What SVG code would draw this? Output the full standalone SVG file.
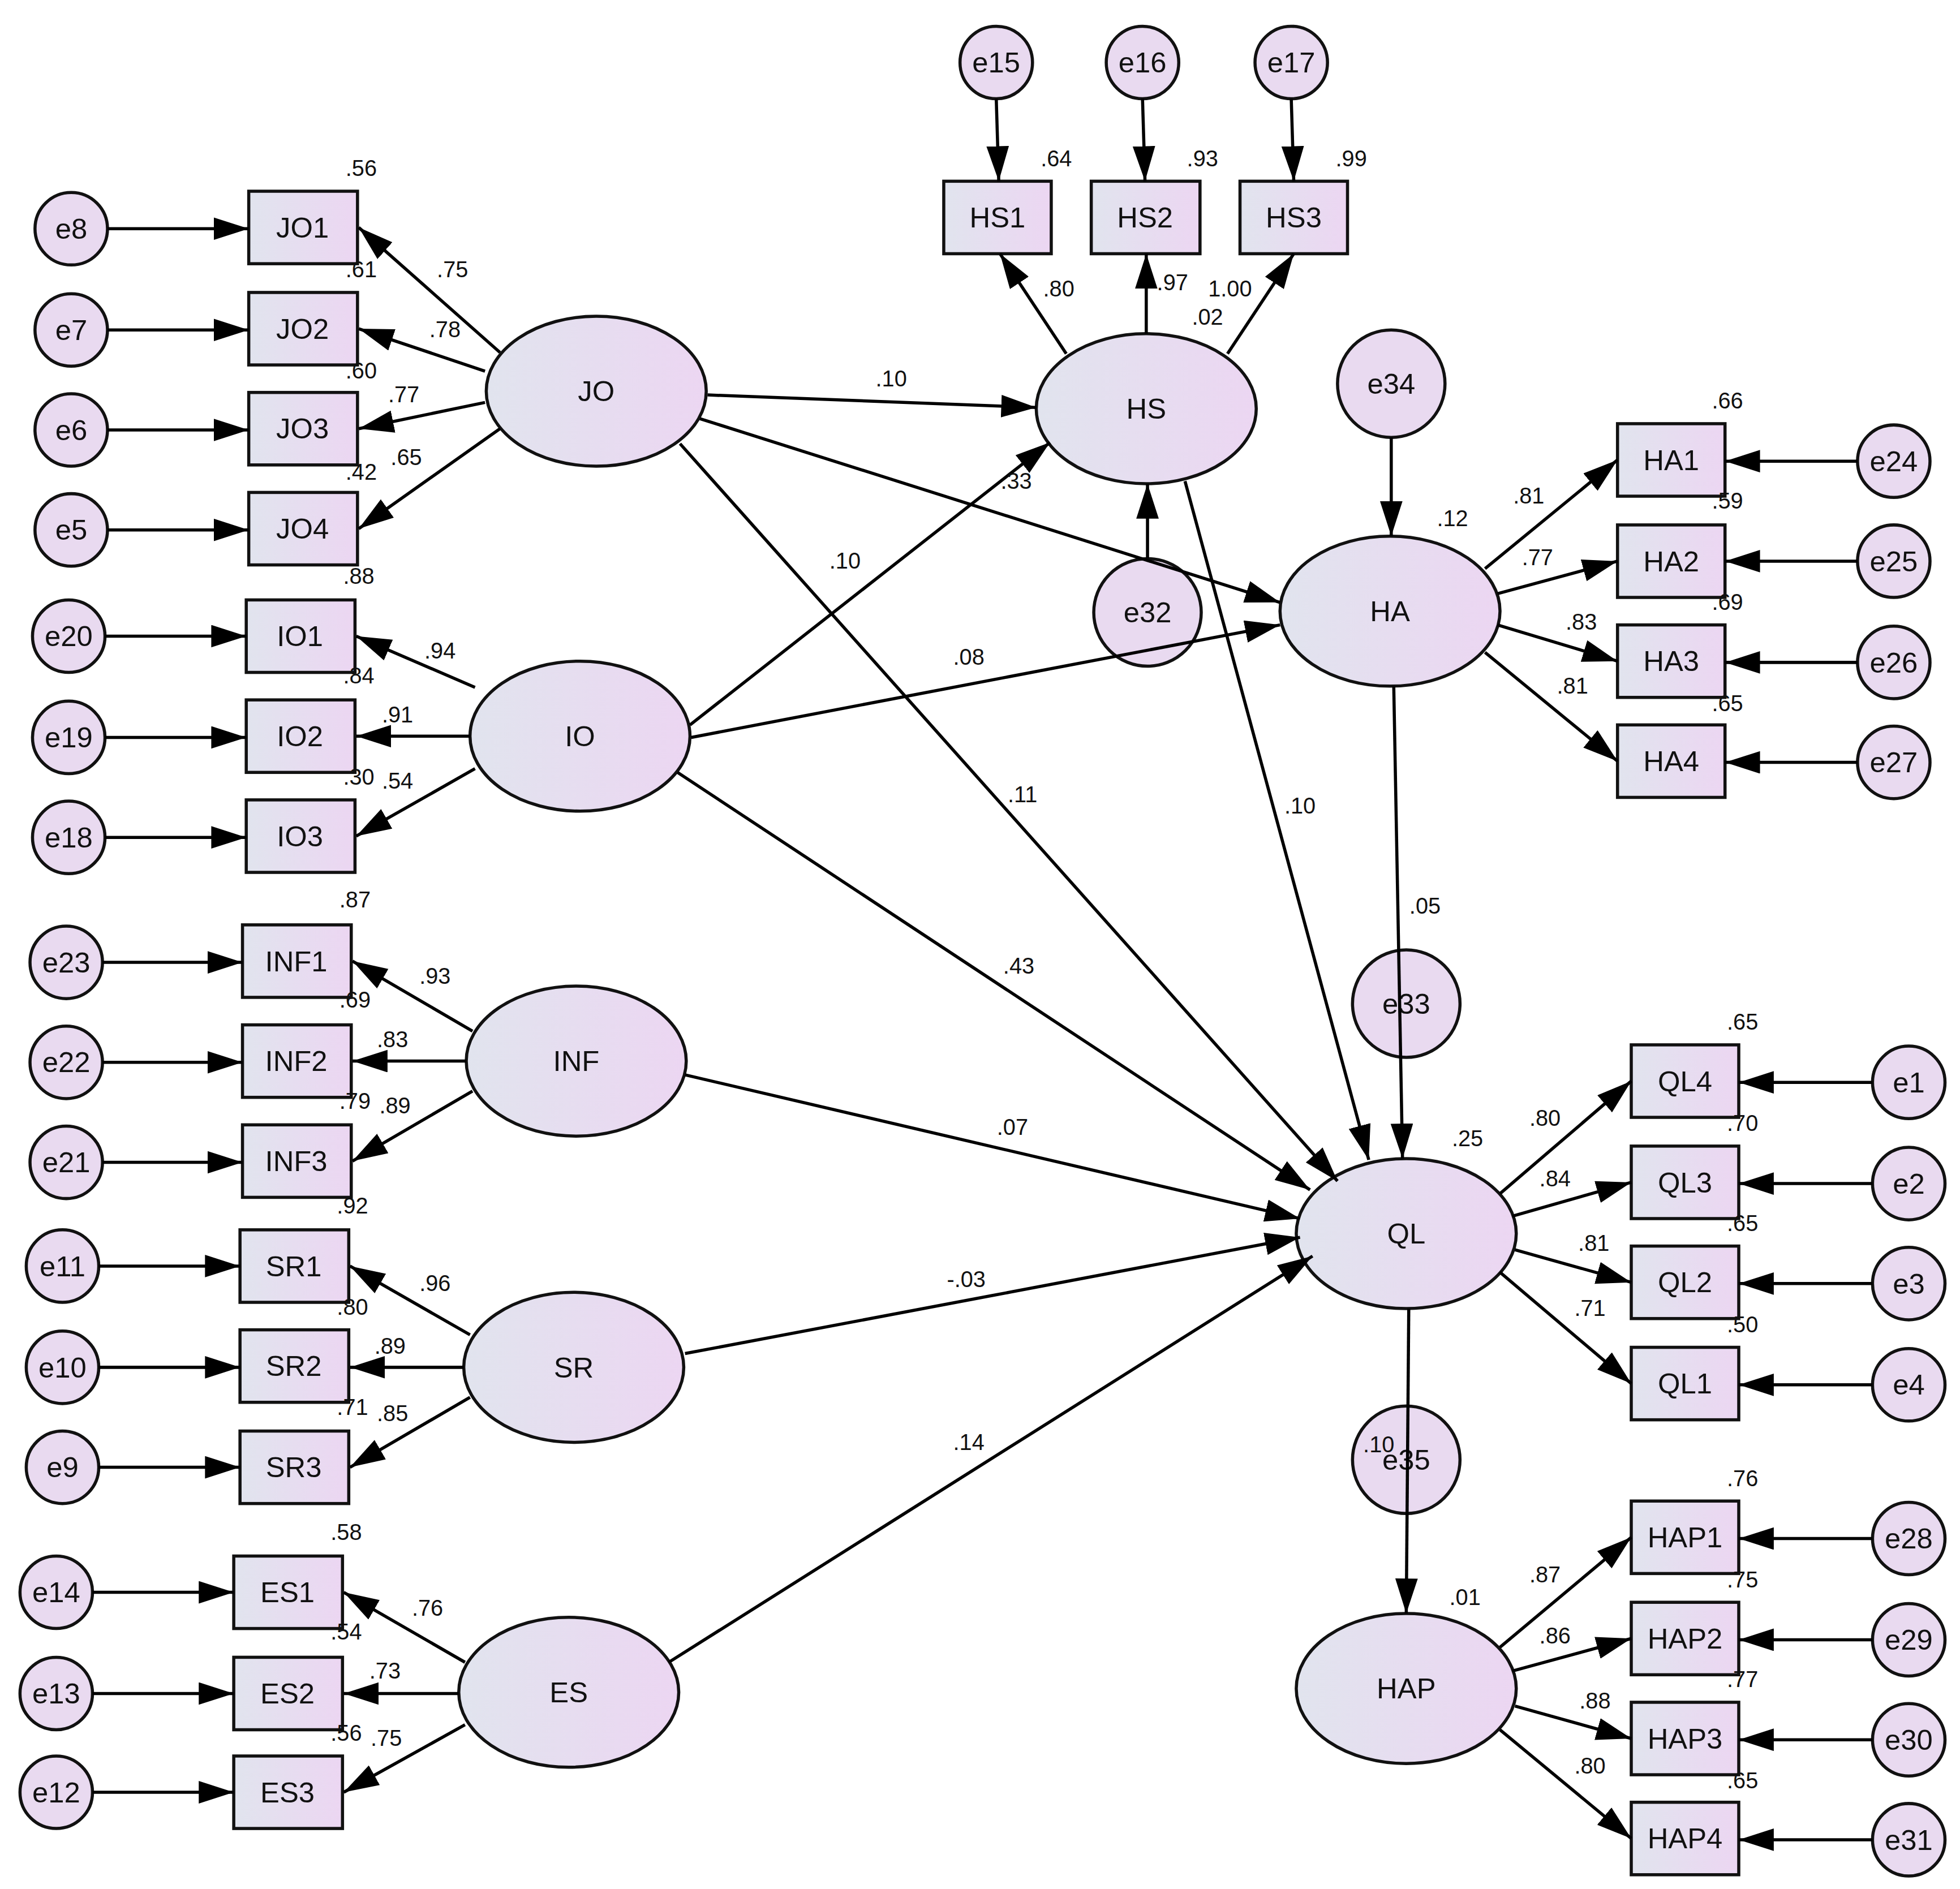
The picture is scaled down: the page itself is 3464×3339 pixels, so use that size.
<svg xmlns="http://www.w3.org/2000/svg" width="3464" height="3339" viewBox="0 0 3464 3339">
<defs>
<linearGradient id="g" x1="0" y1="0" x2="1" y2="0"><stop offset="0" stop-color="#e1e4ee"/><stop offset="1" stop-color="#ecd6f2"/></linearGradient>
<marker id="a" markerUnits="userSpaceOnUse" markerWidth="30" markerHeight="20" refX="28" refY="9" orient="auto"><path d="M0,0 L28,9 L0,18 Z" fill="#000"/></marker>
<style>
.n{fill:url(#g);stroke:#111;stroke-width:2.5}
.e{fill:#e9daf0;stroke:#111;stroke-width:2.5}
.t{font-family:"Liberation Sans",Arial,sans-serif;font-size:23px;text-anchor:middle;fill:#111}
.l{font-family:"Liberation Sans",Arial,sans-serif;font-size:18px;text-anchor:middle;fill:#111}
#c line{stroke:#000;stroke-width:2.5;marker-end:url(#a)}
</style>
</defs>
<rect width="3464" height="3339" fill="#fff"/>
<g transform="scale(2.2092)">
<g id="e8"><circle class="e" cx="57" cy="183" r="29"/><text class="t" x="57" y="191">e8</text></g>
<g id="e7"><circle class="e" cx="57" cy="264" r="29"/><text class="t" x="57" y="272">e7</text></g>
<g id="e6"><circle class="e" cx="57" cy="344" r="29"/><text class="t" x="57" y="352">e6</text></g>
<g id="e5"><circle class="e" cx="57" cy="424" r="29"/><text class="t" x="57" y="432">e5</text></g>
<g id="e20"><circle class="e" cx="55" cy="509" r="29"/><text class="t" x="55" y="517">e20</text></g>
<g id="e19"><circle class="e" cx="55" cy="590" r="29"/><text class="t" x="55" y="598">e19</text></g>
<g id="e18"><circle class="e" cx="55" cy="670" r="29"/><text class="t" x="55" y="678">e18</text></g>
<g id="e23"><circle class="e" cx="53" cy="770" r="29"/><text class="t" x="53" y="778">e23</text></g>
<g id="e22"><circle class="e" cx="53" cy="850" r="29"/><text class="t" x="53" y="858">e22</text></g>
<g id="e21"><circle class="e" cx="53" cy="930" r="29"/><text class="t" x="53" y="938">e21</text></g>
<g id="e11"><circle class="e" cx="50" cy="1013" r="29"/><text class="t" x="50" y="1021">e11</text></g>
<g id="e10"><circle class="e" cx="50" cy="1094" r="29"/><text class="t" x="50" y="1102">e10</text></g>
<g id="e9"><circle class="e" cx="50" cy="1174" r="29"/><text class="t" x="50" y="1182">e9</text></g>
<g id="e14"><circle class="e" cx="45" cy="1274" r="29"/><text class="t" x="45" y="1282">e14</text></g>
<g id="e13"><circle class="e" cx="45" cy="1355" r="29"/><text class="t" x="45" y="1363">e13</text></g>
<g id="e12"><circle class="e" cx="45" cy="1434" r="29"/><text class="t" x="45" y="1442">e12</text></g>
<g id="e15"><circle class="e" cx="797" cy="50" r="29"/><text class="t" x="797" y="58">e15</text></g>
<g id="e16"><circle class="e" cx="914" cy="50" r="29"/><text class="t" x="914" y="58">e16</text></g>
<g id="e17"><circle class="e" cx="1033" cy="50" r="29"/><text class="t" x="1033" y="58">e17</text></g>
<g id="e24"><circle class="e" cx="1515" cy="369" r="29"/><text class="t" x="1515" y="377">e24</text></g>
<g id="e25"><circle class="e" cx="1515" cy="449" r="29"/><text class="t" x="1515" y="457">e25</text></g>
<g id="e26"><circle class="e" cx="1515" cy="530" r="29"/><text class="t" x="1515" y="538">e26</text></g>
<g id="e27"><circle class="e" cx="1515" cy="610" r="29"/><text class="t" x="1515" y="618">e27</text></g>
<g id="e1"><circle class="e" cx="1527" cy="866" r="29"/><text class="t" x="1527" y="874">e1</text></g>
<g id="e2"><circle class="e" cx="1527" cy="947" r="29"/><text class="t" x="1527" y="955">e2</text></g>
<g id="e3"><circle class="e" cx="1527" cy="1027" r="29"/><text class="t" x="1527" y="1035">e3</text></g>
<g id="e4"><circle class="e" cx="1527" cy="1108" r="29"/><text class="t" x="1527" y="1116">e4</text></g>
<g id="e28"><circle class="e" cx="1527" cy="1231" r="29"/><text class="t" x="1527" y="1239">e28</text></g>
<g id="e29"><circle class="e" cx="1527" cy="1312" r="29"/><text class="t" x="1527" y="1320">e29</text></g>
<g id="e30"><circle class="e" cx="1527" cy="1392" r="29"/><text class="t" x="1527" y="1400">e30</text></g>
<g id="e31"><circle class="e" cx="1527" cy="1472" r="29"/><text class="t" x="1527" y="1480">e31</text></g>
<g id="e34"><circle class="e" cx="1113" cy="307" r="43"/><text class="t" x="1113" y="315">e34</text></g>
<g id="e32"><circle class="e" cx="918" cy="490" r="43"/><text class="t" x="918" y="498">e32</text></g>
<g id="e33"><circle class="e" cx="1125" cy="803" r="43"/><text class="t" x="1125" y="811">e33</text></g>
<g id="e35"><circle class="e" cx="1125" cy="1168" r="43"/><text class="t" x="1125" y="1176">e35</text></g>
<g id="JO1"><rect class="n" x="199" y="153" width="87" height="58"/><text class="t" x="242" y="190">JO1</text></g>
<g id="JO2"><rect class="n" x="199" y="234" width="87" height="58"/><text class="t" x="242" y="271">JO2</text></g>
<g id="JO3"><rect class="n" x="199" y="314" width="87" height="58"/><text class="t" x="242" y="351">JO3</text></g>
<g id="JO4"><rect class="n" x="199" y="394" width="87" height="58"/><text class="t" x="242" y="431">JO4</text></g>
<g id="IO1"><rect class="n" x="197" y="480" width="87" height="58"/><text class="t" x="240" y="517">IO1</text></g>
<g id="IO2"><rect class="n" x="197" y="560" width="87" height="58"/><text class="t" x="240" y="597">IO2</text></g>
<g id="IO3"><rect class="n" x="197" y="640" width="87" height="58"/><text class="t" x="240" y="677">IO3</text></g>
<g id="INF1"><rect class="n" x="194" y="740" width="87" height="58"/><text class="t" x="237" y="777">INF1</text></g>
<g id="INF2"><rect class="n" x="194" y="820" width="87" height="58"/><text class="t" x="237" y="857">INF2</text></g>
<g id="INF3"><rect class="n" x="194" y="900" width="87" height="58"/><text class="t" x="237" y="937">INF3</text></g>
<g id="SR1"><rect class="n" x="192" y="984" width="87" height="58"/><text class="t" x="235" y="1021">SR1</text></g>
<g id="SR2"><rect class="n" x="192" y="1064" width="87" height="58"/><text class="t" x="235" y="1101">SR2</text></g>
<g id="SR3"><rect class="n" x="192" y="1145" width="87" height="58"/><text class="t" x="235" y="1182">SR3</text></g>
<g id="ES1"><rect class="n" x="187" y="1245" width="87" height="58"/><text class="t" x="230" y="1282">ES1</text></g>
<g id="ES2"><rect class="n" x="187" y="1326" width="87" height="58"/><text class="t" x="230" y="1363">ES2</text></g>
<g id="ES3"><rect class="n" x="187" y="1405" width="87" height="58"/><text class="t" x="230" y="1442">ES3</text></g>
<g id="HS1"><rect class="n" x="755" y="145" width="86" height="58"/><text class="t" x="798" y="182">HS1</text></g>
<g id="HS2"><rect class="n" x="873" y="145" width="87" height="58"/><text class="t" x="916" y="182">HS2</text></g>
<g id="HS3"><rect class="n" x="992" y="145" width="86" height="58"/><text class="t" x="1035" y="182">HS3</text></g>
<g id="HA1"><rect class="n" x="1294" y="339" width="86" height="58"/><text class="t" x="1337" y="376">HA1</text></g>
<g id="HA2"><rect class="n" x="1294" y="420" width="86" height="58"/><text class="t" x="1337" y="457">HA2</text></g>
<g id="HA3"><rect class="n" x="1294" y="500" width="86" height="58"/><text class="t" x="1337" y="537">HA3</text></g>
<g id="HA4"><rect class="n" x="1294" y="580" width="86" height="58"/><text class="t" x="1337" y="617">HA4</text></g>
<g id="QL4"><rect class="n" x="1305" y="836" width="86" height="58"/><text class="t" x="1348" y="873">QL4</text></g>
<g id="QL3"><rect class="n" x="1305" y="917" width="86" height="58"/><text class="t" x="1348" y="954">QL3</text></g>
<g id="QL2"><rect class="n" x="1305" y="997" width="86" height="58"/><text class="t" x="1348" y="1034">QL2</text></g>
<g id="QL1"><rect class="n" x="1305" y="1078" width="86" height="58"/><text class="t" x="1348" y="1115">QL1</text></g>
<g id="HAP1"><rect class="n" x="1305" y="1201" width="86" height="58"/><text class="t" x="1348" y="1238">HAP1</text></g>
<g id="HAP2"><rect class="n" x="1305" y="1282" width="86" height="58"/><text class="t" x="1348" y="1319">HAP2</text></g>
<g id="HAP3"><rect class="n" x="1305" y="1362" width="86" height="58"/><text class="t" x="1348" y="1399">HAP3</text></g>
<g id="HAP4"><rect class="n" x="1305" y="1442" width="86" height="58"/><text class="t" x="1348" y="1479">HAP4</text></g>
<g id="JO"><ellipse class="n" cx="477" cy="313" rx="88" ry="60"/><text class="t" x="477" y="321">JO</text></g>
<g id="IO"><ellipse class="n" cx="464" cy="589" rx="88" ry="60"/><text class="t" x="464" y="597">IO</text></g>
<g id="INF"><ellipse class="n" cx="461" cy="849" rx="88" ry="60"/><text class="t" x="461" y="857">INF</text></g>
<g id="SR"><ellipse class="n" cx="459" cy="1094" rx="88" ry="60"/><text class="t" x="459" y="1102">SR</text></g>
<g id="ES"><ellipse class="n" cx="455" cy="1354" rx="88" ry="60"/><text class="t" x="455" y="1362">ES</text></g>
<g id="HS"><ellipse class="n" cx="917" cy="327" rx="88" ry="60"/><text class="t" x="917" y="335">HS</text></g>
<g id="HA"><ellipse class="n" cx="1112" cy="489" rx="88" ry="60"/><text class="t" x="1112" y="497">HA</text></g>
<g id="QL"><ellipse class="n" cx="1125" cy="987" rx="88" ry="60"/><text class="t" x="1125" y="995">QL</text></g>
<g id="HAP"><ellipse class="n" cx="1125" cy="1351" rx="88" ry="60"/><text class="t" x="1125" y="1359">HAP</text></g>
<g id="c">
<line x1="86" y1="183" x2="199" y2="183"/><line x1="86" y1="264" x2="199" y2="264"/><line x1="86" y1="344" x2="199" y2="344"/><line x1="86" y1="424" x2="199" y2="424"/>
<line x1="84" y1="509" x2="197" y2="509"/><line x1="84" y1="590" x2="197" y2="590"/><line x1="84" y1="670" x2="197" y2="670"/>
<line x1="82" y1="770" x2="194" y2="770"/><line x1="82" y1="850" x2="194" y2="850"/><line x1="82" y1="930" x2="194" y2="930"/>
<line x1="79" y1="1013" x2="192" y2="1013"/><line x1="79" y1="1094" x2="192" y2="1094"/><line x1="79" y1="1174" x2="192" y2="1174"/>
<line x1="74" y1="1274" x2="187" y2="1274"/><line x1="74" y1="1355" x2="187" y2="1355"/><line x1="74" y1="1434" x2="187" y2="1434"/>
<line x1="400" y1="282" x2="287" y2="182"/><line x1="388" y1="297" x2="287" y2="263"/><line x1="388" y1="322" x2="287" y2="343"/><line x1="400" y1="343" x2="287" y2="423"/>
<line x1="380" y1="550" x2="285" y2="509"/><line x1="376" y1="589" x2="285" y2="589"/><line x1="380" y1="615" x2="285" y2="669"/>
<line x1="378" y1="825" x2="282" y2="769"/><line x1="373" y1="849" x2="282" y2="849"/><line x1="378" y1="873" x2="282" y2="929"/>
<line x1="376" y1="1068" x2="280" y2="1013"/><line x1="371" y1="1094" x2="280" y2="1094"/><line x1="376" y1="1118" x2="280" y2="1174"/>
<line x1="372" y1="1330" x2="275" y2="1274"/><line x1="367" y1="1355" x2="275" y2="1355"/><line x1="372" y1="1380" x2="275" y2="1434"/>
<line x1="797" y1="79" x2="799" y2="145"/><line x1="914" y1="79" x2="916" y2="145"/><line x1="1033" y1="79" x2="1035" y2="145"/>
<line x1="853" y1="283" x2="800" y2="203"/><line x1="917" y1="267" x2="917" y2="203"/><line x1="982" y1="283" x2="1035" y2="203"/>
<line x1="566" y1="316" x2="829" y2="326"/><line x1="552" y1="580" x2="840" y2="354"/><line x1="560" y1="335" x2="1024" y2="482"/><line x1="553" y1="590" x2="1024" y2="500"/>
<line x1="544" y1="355" x2="1070" y2="945"/><line x1="542" y1="618" x2="1048" y2="952"/><line x1="548" y1="860" x2="1040" y2="975"/><line x1="548" y1="1083" x2="1040" y2="990"/><line x1="535" y1="1330" x2="1050" y2="1005"/>
<line x1="948" y1="385" x2="1095" y2="928"/><line x1="1115" y1="549" x2="1122" y2="927"/><line x1="1127" y1="1047" x2="1125" y2="1291"/>
<line x1="918" y1="447" x2="918" y2="387"/><line x1="1113" y1="350" x2="1113" y2="429"/>
<line x1="1188" y1="455" x2="1294" y2="368"/><line x1="1198" y1="475" x2="1294" y2="449"/><line x1="1198" y1="500" x2="1294" y2="529"/><line x1="1188" y1="522" x2="1294" y2="609"/>
<line x1="1486" y1="369" x2="1380" y2="369"/><line x1="1486" y1="449" x2="1380" y2="449"/><line x1="1486" y1="530" x2="1380" y2="530"/><line x1="1486" y1="610" x2="1380" y2="610"/>
<line x1="1200" y1="955" x2="1305" y2="865"/><line x1="1210" y1="973" x2="1305" y2="946"/><line x1="1212" y1="1000" x2="1305" y2="1026"/><line x1="1200" y1="1018" x2="1305" y2="1107"/>
<line x1="1498" y1="866" x2="1391" y2="866"/><line x1="1498" y1="947" x2="1391" y2="947"/><line x1="1498" y1="1027" x2="1391" y2="1027"/><line x1="1498" y1="1108" x2="1391" y2="1108"/>
<line x1="1200" y1="1318" x2="1305" y2="1230"/><line x1="1210" y1="1337" x2="1305" y2="1311"/><line x1="1212" y1="1365" x2="1305" y2="1391"/><line x1="1200" y1="1384" x2="1305" y2="1471"/>
<line x1="1498" y1="1231" x2="1391" y2="1231"/><line x1="1498" y1="1312" x2="1391" y2="1312"/><line x1="1498" y1="1392" x2="1391" y2="1392"/><line x1="1498" y1="1472" x2="1391" y2="1472"/>
</g>
<g id="labels">
<text class="l" x="289" y="141">.56</text><text class="l" x="362" y="222">.75</text><text class="l" x="289" y="222">.61</text><text class="l" x="356" y="270">.78</text><text class="l" x="289" y="303">.60</text><text class="l" x="323" y="322">.77</text><text class="l" x="289" y="384">.42</text><text class="l" x="325" y="372">.65</text>
<text class="l" x="287" y="467">.88</text><text class="l" x="352" y="527">.94</text><text class="l" x="287" y="547">.84</text><text class="l" x="318" y="578">.91</text><text class="l" x="287" y="628">.30</text><text class="l" x="318" y="631">.54</text>
<text class="l" x="284" y="726">.87</text><text class="l" x="348" y="787">.93</text><text class="l" x="284" y="806">.69</text><text class="l" x="314" y="838">.83</text><text class="l" x="284" y="887">.79</text><text class="l" x="316" y="891">.89</text>
<text class="l" x="282" y="971">.92</text><text class="l" x="348" y="1033">.96</text><text class="l" x="282" y="1052">.80</text><text class="l" x="312" y="1083">.89</text><text class="l" x="282" y="1132">.71</text><text class="l" x="314" y="1137">.85</text>
<text class="l" x="277" y="1232">.58</text><text class="l" x="342" y="1293">.76</text><text class="l" x="277" y="1312">.54</text><text class="l" x="308" y="1343">.73</text><text class="l" x="277" y="1393">.56</text><text class="l" x="309" y="1397">.75</text>
<text class="l" x="845" y="133">.64</text><text class="l" x="962" y="133">.93</text><text class="l" x="1081" y="133">.99</text><text class="l" x="847" y="237">.80</text><text class="l" x="938" y="232">.97</text><text class="l" x="984" y="237">1.00</text><text class="l" x="966" y="260">.02</text>
<text class="l" x="713" y="309">.10</text><text class="l" x="813" y="391">.33</text><text class="l" x="676" y="455">.10</text><text class="l" x="775" y="532">.08</text><text class="l" x="818" y="642">.11</text><text class="l" x="815" y="779">.43</text><text class="l" x="810" y="908">.07</text><text class="l" x="773" y="1030">-.03</text><text class="l" x="775" y="1160">.14</text><text class="l" x="1040" y="651">.10</text><text class="l" x="1140" y="731">.05</text><text class="l" x="1162" y="421">.12</text><text class="l" x="1174" y="917">.25</text><text class="l" x="1103" y="1162">.10</text><text class="l" x="1172" y="1284">.01</text>
<text class="l" x="1382" y="327">.66</text><text class="l" x="1223" y="403">.81</text><text class="l" x="1382" y="407">.59</text><text class="l" x="1230" y="452">.77</text><text class="l" x="1382" y="488">.69</text><text class="l" x="1265" y="504">.83</text><text class="l" x="1382" y="569">.65</text><text class="l" x="1258" y="555">.81</text>
<text class="l" x="1394" y="824">.65</text><text class="l" x="1236" y="901">.80</text><text class="l" x="1394" y="905">.70</text><text class="l" x="1244" y="949">.84</text><text class="l" x="1394" y="985">.65</text><text class="l" x="1275" y="1001">.81</text><text class="l" x="1394" y="1066">.50</text><text class="l" x="1272" y="1053">.71</text>
<text class="l" x="1394" y="1189">.76</text><text class="l" x="1236" y="1266">.87</text><text class="l" x="1394" y="1270">.75</text><text class="l" x="1244" y="1315">.86</text><text class="l" x="1394" y="1350">.77</text><text class="l" x="1276" y="1367">.88</text><text class="l" x="1394" y="1431">.65</text><text class="l" x="1272" y="1419">.80</text>
</g>
</g>
</svg>
